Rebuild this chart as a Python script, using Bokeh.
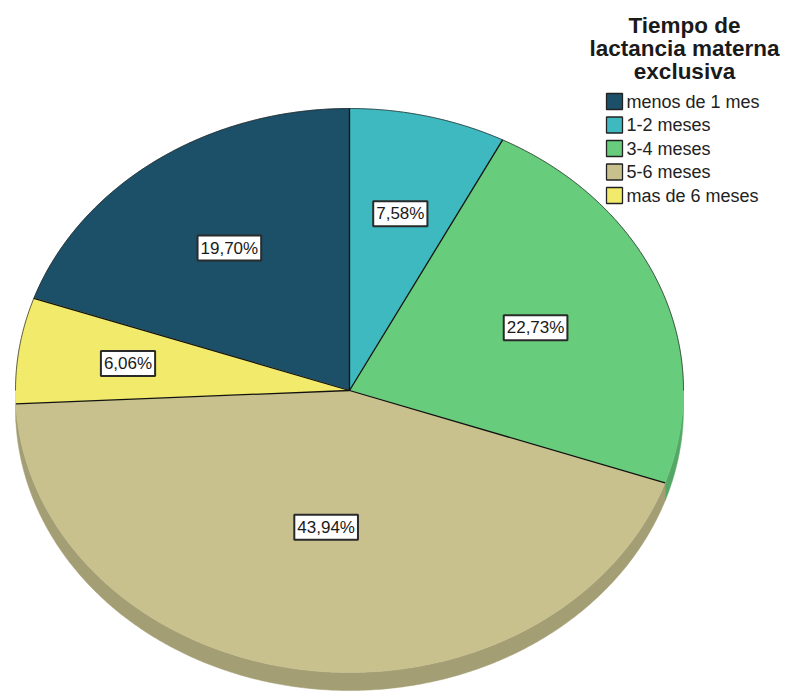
import numpy as np
from bokeh.plotting import figure
from bokeh.models import Range1d
from bokeh.core.properties import value
from bokeh.embed import file_html
from bokeh.resources import INLINE

# ---- data ----
categories = ["menos de 1 mes", "1-2 meses", "3-4 meses", "5-6 meses", "mas de 6 meses"]
percents = [19.70, 7.58, 22.73, 43.94, 6.06]
colors = ["#1b5068", "#3eb9bf", "#67cc7b", "#c8c18e", "#f1ea6a"]
legend_title = ["Tiempo de", "lactancia materna", "exclusiva"]

# ---- layout ----
W, H = 786, 692
CX, CY = 349, H - 390
RX, RY = 334, 282
DEPTH = 18
label_r = [0.62, 0.645, 0.60, 0.49, 0.67]
FONT = value("Liberation Sans")


def darker(hexcol, f=0.82):
    h = hexcol.lstrip("#")
    r, g, b = (int(h[i:i + 2], 16) for i in (0, 2, 4))
    return "#%02x%02x%02x" % (int(r * f), int(g * f), int(b * f))


def arc(a_hi, a_lo, n=None):
    if n is None:
        n = max(4, int(abs(a_hi - a_lo) * 2))
    a = np.radians(np.linspace(a_hi, a_lo, n))
    return CX + RX * np.cos(a), CY + RY * np.sin(a)


p = figure(width=W, height=H, x_range=Range1d(0, W), y_range=Range1d(0, H),
           output_backend="svg", toolbar_location=None, min_border=0,
           x_axis_location=None, y_axis_location=None)
p.grid.visible = False
p.outline_line_color = None

start = 90 + 3.6 * percents[0]
bounds = start - 3.6 * np.concatenate([[0], np.cumsum(percents)])

# rim (front half)
rim_xs, rim_ys, rim_cols = [], [], []
for i in range(len(percents)):
    hi, lo = bounds[i], bounds[i + 1]
    for k in (-360, 0, 360):
        a, b = max(lo + k, -180), min(hi + k, 0)
        if b > a:
            x, y = arc(b, a)
            rim_xs.append(list(x) + list(x[::-1]))
            rim_ys.append(list(y) + list((y - DEPTH)[::-1]))
            rim_cols.append(darker(colors[i]))
p.patches(rim_xs, rim_ys, fill_color=rim_cols, line_color=rim_cols, line_width=0.5)

# top slices
xs, ys = [], []
for i in range(len(percents)):
    x, y = arc(bounds[i], bounds[i + 1])
    xs.append([CX] + list(x) + [CX])
    ys.append([CY] + list(y) + [CY])
p.patches(xs, ys, fill_color=colors, line_color=colors, line_width=0.5)

# back outline
bx, by = arc(0, 180, 300)
p.line(bx, by, line_color="#222222", line_width=1, line_alpha=0.7)

# slice borders
ba = np.radians(bounds[:-1])
p.segment(x0=[CX] * len(ba), y0=[CY] * len(ba),
          x1=CX + RX * np.cos(ba), y1=CY + RY * np.sin(ba),
          line_color="#111111", line_width=1.3)

# labels
mid = np.radians((bounds[:-1] + bounds[1:]) / 2)
lx = CX + np.array(label_r) * RX * np.cos(mid)
ly = CY + np.array(label_r) * RY * np.sin(mid)
texts = [("%.2f" % v).replace(".", ",") + "%" for v in percents]
p.text(x=lx, y=ly, text=texts, text_font=FONT, text_font_size="17px",
       text_color="#1a1a1a", text_align="center", text_baseline="middle",
       background_fill_color="white", border_line_color="#2a2a2a",
       border_line_width=2, padding=3)

# legend
ty = H - (25 + 23 * np.arange(len(legend_title)))
p.text(x=[684] * len(legend_title), y=ty, text=legend_title, text_font=FONT,
       text_font_size="22.5px", text_font_style="bold", text_color="#1a1a1a",
       text_align="center", text_baseline="middle")
iy = H - (101 + 23.5 * np.arange(len(categories)))
p.rect(x=[614] * len(categories), y=iy, width=16, height=16,
       fill_color=colors, line_color="#222222", line_width=1.3)
p.text(x=[626] * len(categories), y=iy, text=categories, text_font=FONT,
       text_font_size="18px", text_color="#222222", text_align="left",
       text_baseline="middle")

open("out.html", "w").write(file_html(p, INLINE))
